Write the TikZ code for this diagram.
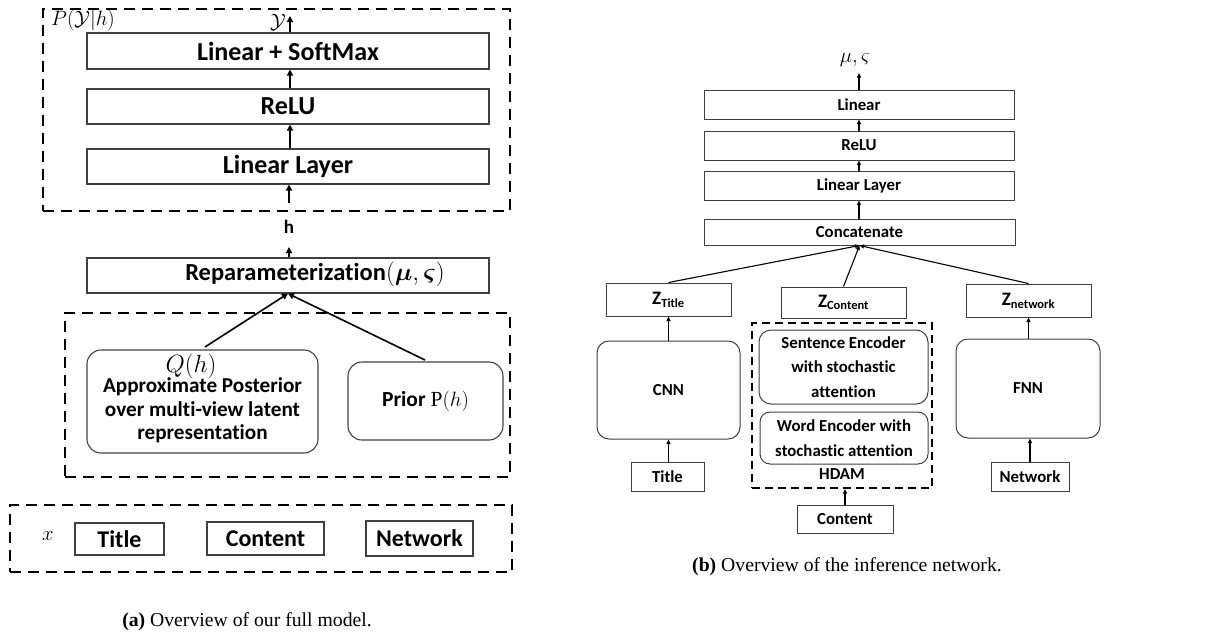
\documentclass[tikz,border=0pt]{standalone}
\usepackage{fontspec}
\usepackage{bm}
\setmainfont{Carlito}[Ligatures=NoCommon]
\newfontfamily\capfont{Liberation Serif}
\usetikzlibrary{arrows.meta}
\begin{document}
\begin{tikzpicture}[x=1pt,y=-1pt,
  box/.style={draw=black!75, line width=1.1pt, inner sep=0pt, align=center, font=\fontsize{24}{28}\selectfont\bfseries},
  bigbox/.style={box, font=\fontsize{26}{28}\selectfont\bfseries},
  rbox/.style={box, rounded corners=14pt},
  sbox/.style={draw=black!75, line width=1pt, inner sep=0pt, align=center, font=\fontsize{16.8}{24.5}\selectfont\bfseries},
  srbox/.style={sbox, rounded corners=12pt},
  group/.style={draw, dashed, dash pattern=on 11pt off 7pt, line width=2.6pt, inner sep=0pt},
  sgroup/.style={draw, dash pattern=on 8pt off 5pt, line width=2pt, inner sep=0pt},
  arr/.style={-{Triangle[length=6pt,width=6pt]}, line width=1.6pt},
  sarr/.style={-{Triangle[length=4.5pt,width=4pt]}, line width=1.1pt},
  captext/.style={font=\capfont\fontsize{19.7}{22}\selectfont}
]
\useasboundingbox (0,0) rectangle (1208,632);
% ---------------- left panel ----------------
\node[group, minimum width=467pt, minimum height=202pt] (top) at (276.5,110) {};
\node[font=\fontsize{20}{22}\selectfont] (pyh) at (83,20) {$P(\mathcal{Y}|h)$};
\node[bigbox, minimum width=402pt, minimum height=36pt] (lsm) at (288,51) {Linear + SoftMax};
\node[bigbox, minimum width=402pt, minimum height=35pt] (relu) at (288,106.5) {ReLU};
\node[bigbox, minimum width=402pt, minimum height=35pt] (ll) at (288,166.5) {Linear Layer};
\node[font=\fontsize{20}{22}\selectfont] (ylab) at (278,22) {$\mathcal{Y}$};
\coordinate (ytop) at (290,16);
\draw[arr] (lsm.north -| ytop) -- (ytop);
\draw[arr] (relu.north -| ytop) -- (lsm.south -| ytop);
\draw[arr] (ll.north -| ytop) -- (relu.south -| ytop);
\node[font=\fontsize{19}{20}\selectfont\bfseries] (h) at (289,227) {h};
\coordinate (hb) at (289,247);
\coordinate (ht) at (289,203);
\draw[arr] (ht) -- (ll.south -| ht);
\node[box, minimum width=402pt, minimum height=35pt] (rep) at (288,275.5) {};
\node[font=\fontsize{24.5}{28}\selectfont\bfseries] (reptext) at (315,274) {Reparameterization$(\bm{\mu},\bm{\varsigma})$};
\draw[arr] (rep.north -| hb) -- (hb);
\node[group, minimum width=445pt, minimum height=164pt] (mid) at (287.5,395) {};
\node[rbox, minimum width=231pt, minimum height=103pt, font=\fontsize{21.2}{23.5}\selectfont\bfseries] (post) at (202.5,401.5) {\\[9pt]Approximate Posterior\\over multi-view latent\\representation};
\node[font=\fontsize{25.5}{26}\selectfont] (qh) at (191,366) {$Q(h)$};
\node[rbox, minimum width=155pt, minimum height=78pt, font=\fontsize{21.5}{24}\selectfont\bfseries] (prior) at (425.5,401) {Prior {\capfont\mdseries P}$(h)$};
\coordinate (postout) at (205,347);
\coordinate (priorout) at (425,360);
\draw[arr] (postout) -- (rep.south);
\draw[arr] (priorout) -- (rep.south);
\node[group, minimum width=502pt, minimum height=67pt] (xgrp) at (261,538.5) {};
\node[font=\fontsize{20}{22}\selectfont] (xlab) at (48,536) {$x$};
\node[box, minimum width=89pt, minimum height=32pt] (title) at (119.5,539) {Title};
\node[box, minimum width=117pt, minimum height=33pt] (content) at (265.5,538.5) {Content};
\node[box, minimum width=107pt, minimum height=35pt] (network) at (419.5,538.5) {Network};
\node[captext] (capa) at (247,622) {\textbf{(a)} Overview of our full model.};
% ---------------- right panel ----------------
\node[font=\fontsize{20}{22}\selectfont] (musig) at (855,60) {$\mu,\varsigma$};
\coordinate (rtop) at (859,73);
\node[sbox, minimum width=310pt, minimum height=29pt] (lin) at (859,104.5) {Linear};
\node[sbox, minimum width=310pt, minimum height=29pt] (relu2) at (859,145.5) {ReLU};
\node[sbox, minimum width=310pt, minimum height=29pt] (ll2) at (859,185.5) {Linear Layer};
\node[sbox, minimum width=311pt, minimum height=26pt] (cat) at (859.5,232) {Concatenate};
\draw[sarr] (lin.north -| rtop) -- (rtop);
\draw[sarr] (relu2.north -| rtop) -- (lin.south -| rtop);
\draw[sarr] (ll2.north -| rtop) -- (relu2.south -| rtop);
\draw[sarr] (cat.north -| rtop) -- (ll2.south -| rtop);
\node[sbox, minimum width=125pt, minimum height=33pt] (zt) at (668.5,299.5) {{\fontsize{19}{20}\selectfont Z}\textsubscript{\fontsize{12.5}{12}\selectfont Title}};
\node[sbox, minimum width=125pt, minimum height=31pt] (zc) at (843.5,302.5) {{\fontsize{19}{20}\selectfont Z}\textsubscript{\fontsize{12.5}{12}\selectfont Content}};
\node[sbox, minimum width=125pt, minimum height=33pt] (zn) at (1028.5,300.5) {{\fontsize{19}{20}\selectfont Z}\textsubscript{\fontsize{12.5}{12}\selectfont network}};
\draw[sarr] (zt.north) -- (cat.south);
\draw[sarr] (zc.north) -- (cat.south);
\draw[sarr] (zn.north) -- (cat.south);
\node[srbox, minimum width=143pt, minimum height=98pt] (cnn) at (668.5,390) {CNN};
\node[sbox, minimum width=73pt, minimum height=29pt] (title2) at (667.5,476.5) {Title};
\draw[sarr] (cnn.north -| zt) -- (zt.south);
\draw[sarr] (title2.north -| cnn) -- (cnn.south);
\node[sgroup, minimum width=180pt, minimum height=165pt] (hdam) at (842,405.5) {};
\node[srbox, minimum width=169pt, minimum height=74pt] (sent) at (843.5,367) {Sentence Encoder\\with stochastic\\attention};
\node[srbox, minimum width=168pt, minimum height=52pt, rounded corners=10pt] (word) at (844,438) {Word Encoder with\\stochastic attention};
\node[font=\fontsize{16.8}{20}\selectfont\bfseries] (hdamlab) at (842,474) {HDAM};
\node[sbox, minimum width=96pt, minimum height=28pt] (content2) at (845,519) {Content};
\draw[sarr] (content2.north) -- (hdam.south -| content2);
\node[srbox, minimum width=144pt, minimum height=99pt] (fnn) at (1028,388.5) {FNN};
\node[sbox, minimum width=78pt, minimum height=29pt] (net2) at (1030,476.5) {Network};
\draw[sarr] (fnn.north -| zn) -- (zn.south);
\draw[sarr] (net2.north) -- (fnn.south -| net2);
\node[captext] (capb) at (847,567) {\textbf{(b)} Overview of the inference network.};
\end{tikzpicture}
\end{document}
